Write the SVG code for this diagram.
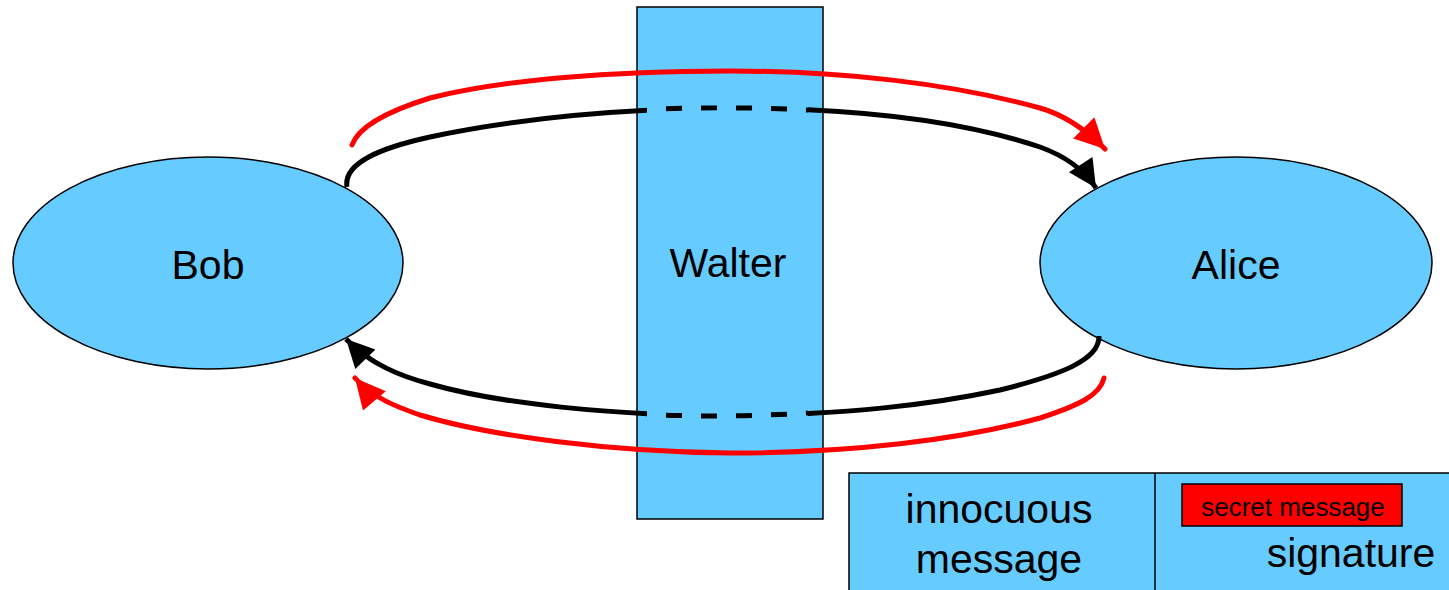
<svg xmlns="http://www.w3.org/2000/svg" width="1449" height="590" viewBox="0 0 1449 590">
<style>
.node{fill:#66ccff;stroke:#000;stroke-width:1.5}
.lbl{font-family:"Liberation Sans",Arial,sans-serif;font-size:41px;fill:#000;text-anchor:middle}
.blk{fill:none;stroke:#000;stroke-width:5}
.red{fill:none;stroke:#ff0000;stroke-width:5;stroke-linecap:round}
.dash{stroke-dasharray:16 19;stroke-dashoffset:16}
</style>
<defs>
<marker id="ab" viewBox="0 0 10 10" refX="10" refY="5" markerUnits="userSpaceOnUse" markerWidth="30" markerHeight="28" orient="auto">
<path d="M0,0 L10,5 L0,10 z" fill="#000"/>
</marker>
<marker id="ar" viewBox="0 0 10 10" refX="10" refY="5" markerUnits="userSpaceOnUse" markerWidth="32" markerHeight="30" orient="auto">
<path d="M0,0 L10,5 L0,10 z" fill="#ff0000"/>
</marker>
<clipPath id="outside">
<rect x="0" y="0" width="647" height="590"/>
<rect x="808" y="0" width="641" height="590"/>
</clipPath>
</defs>
<rect width="1449" height="590" fill="#fff"/>
<g id="bob">
<ellipse class="node" cx="208" cy="263" rx="195" ry="106"/>
<text class="lbl" x="208" y="279">Bob</text>
</g>
<g id="walter">
<rect class="node" x="637" y="7" width="186" height="512"/>
<text class="lbl" x="728" y="277">Walter</text>
</g>
<g id="alice">
<ellipse class="node" cx="1236" cy="263" rx="196" ry="106"/>
<text class="lbl" x="1236" y="279">Alice</text>
</g>
<g id="message">
<rect class="node" x="849" y="473" width="620" height="140"/>
<line x1="1155" y1="473" x2="1155" y2="590" stroke="#000" stroke-width="1.5"/>
<text class="lbl" x="999" y="523">innocuous</text>
<text class="lbl" x="999" y="573">message</text>
<rect x="1182" y="484" width="220" height="42" fill="#ff0000" stroke="#000" stroke-width="1.5"/>
<text class="lbl" x="1293" y="516" style="font-size:26px">secret message</text>
<text class="lbl" x="1351" y="567">signature</text>
</g>
<g id="connectors">
<path class="blk" clip-path="url(#outside)" marker-end="url(#ab)" d="M347,187 C343,163 380,148 430,137 C510,120 610,109 730,108 C850,108 960,120 1040,147 C1065,156 1083,168 1096,188"/>
<path class="blk dash" d="M647,109.5 Q728,106 808,110"/>
<path class="blk" clip-path="url(#outside)" marker-end="url(#ab)" d="M1099,336 C1100,360 1060,375 1000,390 C930,405 850,414 730,416 C610,415 500,404 430,384 C400,376 370,364 346,339"/>
<path class="blk dash" d="M647,414.5 Q728,418 808,413"/>
<path class="red" marker-end="url(#ar)" d="M352,145 C358,128 385,112 430,98 C500,80 610,71 730,71 C840,71 950,83 1040,108 C1065,115 1086,130 1105,149"/>
<path class="red" marker-end="url(#ar)" d="M1104,378 C1100,395 1080,405 1040,418 C960,440 850,453 730,453 C610,452 490,436 420,415 C400,408 372,398 355,378"/>
</g>
</svg>
